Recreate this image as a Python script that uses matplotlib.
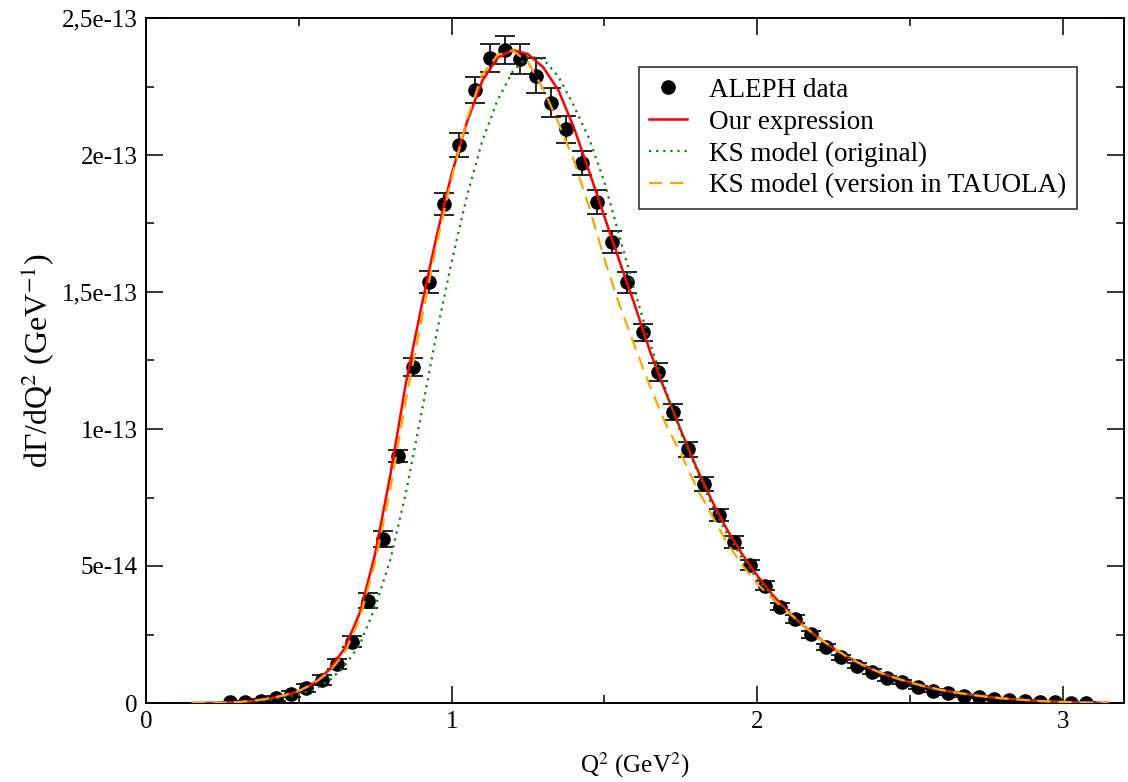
import matplotlib
matplotlib.use("Agg")
import matplotlib.pyplot as plt
from matplotlib.lines import Line2D
from matplotlib.ticker import MultipleLocator

# ALEPH data points (Q^2 in GeV^2, values in units of 1e-15 GeV^-1)
q2_data = [0.275, 0.325, 0.375, 0.425, 0.475, 0.525, 0.575, 0.625, 0.675, 0.725,
           0.775, 0.825, 0.875, 0.925, 0.975, 1.025, 1.075, 1.125, 1.175, 1.225,
           1.275, 1.325, 1.375, 1.425, 1.475, 1.525, 1.575, 1.625, 1.675, 1.725,
           1.775, 1.825, 1.875, 1.925, 1.975, 2.025, 2.075, 2.125, 2.175, 2.225,
           2.275, 2.325, 2.375, 2.425, 2.475, 2.525, 2.575, 2.625, 2.675, 2.725,
           2.775, 2.825, 2.875, 2.925, 2.975, 3.025, 3.075]
aleph = [0.3, 0.5, 0.8, 1.7, 3.3, 5.4, 8.4, 14.1, 22.4, 37.4,
         59.7, 90.2, 122.7, 153.6, 182.1, 203.7, 223.7, 235.3, 238.3, 234.9,
         229.0, 219.1, 209.4, 197.0, 183.0, 168.2, 153.6, 135.3, 120.7, 106.3,
         92.6, 79.9, 68.6, 58.6, 50.4, 42.8, 35.2, 30.7, 25.1, 20.3,
         16.7, 13.6, 11.4, 9.0, 7.8, 5.7, 4.5, 3.5, 2.7, 2.2,
         1.4, 1.1, 0.85, 0.5, 0.3, 0.15, 0.1]
aleph_err = [0.2, 0.3, 0.6, 0.9, 1.2, 1.5, 1.7, 1.8, 2.0, 2.6,
             2.9, 2.3, 3.3, 4.0, 4.1, 4.4, 4.7, 5.1, 5.2, 5.5,
             6.3, 5.3, 5.0, 4.4, 4.4, 4.1, 3.8, 3.2, 3.3, 3.0,
             2.7, 2.4, 2.1, 2.2, 1.9, 1.6, 1.4, 1.4, 1.3, 1.1,
             1.0, 0.9, 0.9, 0.8, 0.7, 0.6, 0.5, 0.5, 0.4, 0.4,
             0.3, 0.3, 0.25, 0.2, 0.2, 0.15, 0.1]

# model curves (same units)
q2_curve = [0.15, 0.20, 0.25, 0.30, 0.35, 0.40, 0.45, 0.50, 0.55, 0.60,
            0.65, 0.70, 0.75, 0.80, 0.85, 0.90, 0.95, 1.00, 1.05, 1.10,
            1.15, 1.20, 1.25, 1.30, 1.35, 1.40, 1.45, 1.50, 1.55, 1.60,
            1.65, 1.70, 1.75, 1.80, 1.85, 1.90, 1.95, 2.00, 2.05, 2.10,
            2.15, 2.20, 2.25, 2.30, 2.35, 2.40, 2.45, 2.50, 2.55, 2.60,
            2.65, 2.70, 2.75, 2.80, 2.85, 2.90, 2.95, 3.00, 3.05, 3.10, 3.15]
ours = [0.0, 0.05, 0.15, 0.35, 0.8, 1.5, 2.6, 4.3, 7.2, 12.2,
        19.9, 33.0, 54.5, 83.5, 116.5, 144.0, 170.0, 193.0, 212.0, 227.0,
        235.5, 238.3, 236.8, 232.0, 223.5, 210.0, 194.0, 177.5, 161.0, 145.0,
        128.0, 113.5, 99.5, 86.2, 74.2, 63.5, 54.4, 46.5, 39.5, 33.5,
        28.3, 23.8, 19.9, 16.5, 13.6, 11.2, 9.2, 7.5, 6.0, 4.8,
        3.8, 3.0, 2.3, 1.7, 1.3, 0.9, 0.6, 0.4, 0.25, 0.1, 0.05]
ks_orig = [0.0, 0.0, 0.05, 0.15, 0.5, 1.0, 2.0, 3.1, 4.9, 8.2,
           13.5, 21.5, 35.0, 52.5, 76.5, 105.0, 134.5, 161.0, 185.0, 205.0,
           220.0, 230.5, 236.0, 235.0, 228.5, 218.0, 206.0, 190.0, 170.0, 150.0,
           131.0, 114.5, 98.5, 85.5, 72.7, 62.0, 53.0, 45.3, 38.9, 33.2,
           28.2, 23.8, 19.9, 16.5, 13.6, 11.2, 9.2, 7.5, 6.0, 4.8,
           3.8, 3.0, 2.3, 1.7, 1.3, 0.9, 0.6, 0.4, 0.25, 0.1, 0.05]
ks_tauola = [0.0, 0.05, 0.15, 0.35, 0.8, 1.6, 2.8, 4.4, 7.2, 11.4,
             18.2, 31.0, 51.5, 78.5, 110.5, 139.0, 167.0, 191.5, 213.0, 229.3,
             236.5, 238.2, 233.8, 224.0, 211.6, 198.0, 181.0, 162.0, 145.0, 130.0,
             115.3, 102.0, 91.0, 79.0, 68.8, 58.7, 50.4, 43.5, 38.0, 33.3,
             28.3, 23.8, 19.9, 16.5, 13.6, 11.2, 9.2, 7.5, 6.0, 4.8,
             3.8, 3.0, 2.3, 1.7, 1.3, 0.9, 0.6, 0.4, 0.25, 0.1, 0.05]

x_ticks = [0, 1, 2, 3]
y_ticks = [0, 5e-14, 1e-13, 1.5e-13, 2e-13, 2.5e-13]
y_ticklabels = ["0", "5e-14", "1e-13", "1,5e-13", "2e-13", "2,5e-13"]
labels = ["ALEPH data", "Our expression", "KS model (original)",
          "KS model (version in TAUOLA)"]

unit = 1e-15

plt.rcParams["font.family"] = ["Liberation Serif", "DejaVu Serif"]
plt.rcParams["mathtext.fontset"] = "stix"

fig = plt.figure(figsize=(11.28, 7.82), dpi=100)
ax = fig.add_axes([146 / 1128, 79 / 782, 978 / 1128, 685 / 782])

ax.errorbar(q2_data, [v * unit for v in aleph], yerr=[e * unit for e in aleph_err],
            fmt="o", color="black", ms=9.5, elinewidth=1.2, capsize=7, capthick=1.2,
            zorder=2)
ax.plot(q2_curve, [v * unit for v in ours], color="red", lw=1.8, zorder=3)
ax.plot(q2_curve, [v * unit for v in ks_orig], color="#008c00", lw=1.6,
        linestyle=(0, (1, 2.2)), zorder=3)
ax.plot(q2_curve, [v * unit for v in ks_tauola], color="#ffa500", lw=1.6,
        linestyle=(0, (6, 3.5)), zorder=3)

ax.set_xlim(0, 3.2)
ax.set_ylim(0, 2.5e-13)
ax.set_xticks(x_ticks)
ax.set_xticklabels([str(t) for t in x_ticks])
ax.set_yticks(y_ticks)
ax.set_yticklabels(y_ticklabels)
ax.xaxis.set_minor_locator(MultipleLocator(0.5))
ax.yaxis.set_minor_locator(MultipleLocator(2.5e-14))
ax.tick_params(which="both", direction="in", top=True, right=True, width=1.1,
               labelsize=18, pad=6)
ax.tick_params(which="major", length=12)
ax.tick_params(which="minor", length=6)
for s in ax.spines.values():
    s.set_linewidth(1.4)

ax.set_xlabel("Q$^{2}$ (GeV$^{2}$)", fontsize=18, labelpad=12)
ax.set_ylabel("d\u0393/dQ$^{2}$ (GeV$^{-1}$)", fontsize=23, labelpad=4)

handles = [
    Line2D([], [], color="black", marker="o", ms=9.5, linestyle="none"),
    Line2D([], [], color="red", lw=1.8),
    Line2D([], [], color="#008c00", lw=1.6, linestyle=(0, (1, 2.2))),
    Line2D([], [], color="#ffa500", lw=1.6, linestyle=(0, (6, 3.5))),
]
leg = ax.legend(handles, labels, loc="upper right",
                bbox_to_anchor=((1077 - 146) / 978, (703 - 67) / 685),
                borderaxespad=0, fontsize=19.5, frameon=True, fancybox=False,
                edgecolor="black", handlelength=1.4, handletextpad=0.8,
                labelspacing=0.25, borderpad=0.4)
leg.get_frame().set_linewidth(1.2)

fig.savefig("out.png", dpi=100)
